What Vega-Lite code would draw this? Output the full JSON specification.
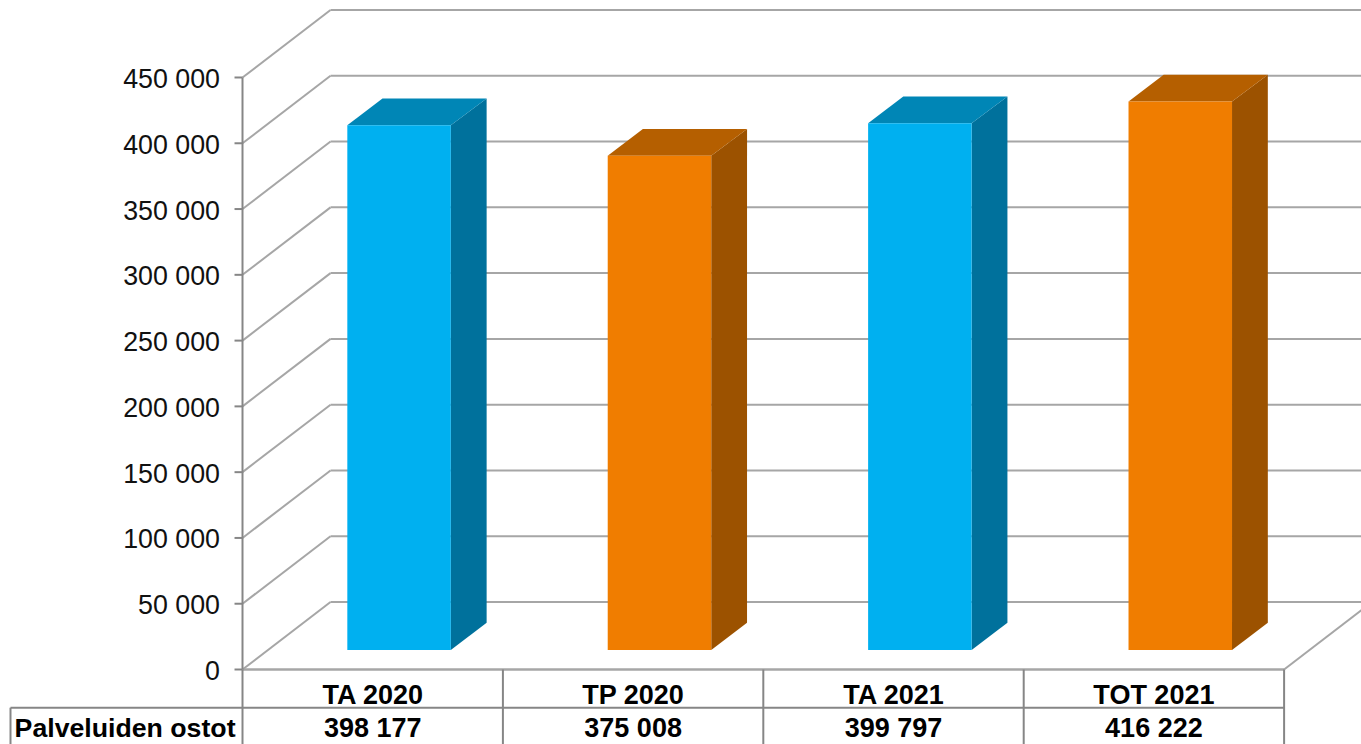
{
"$schema":"https://vega.github.io/schema/vega-lite/v6.json",
"width":1361,"height":744,"padding":0,"autosize":{"type":"none"},"background":"white",
"config":{"view":{"stroke":null},"text":{"font":"Liberation Sans"}},
"datasets":{
 "bars":[
  {"category":"TA 2020","position":0,"value":398177,"label":"398 177"},
  {"category":"TP 2020","position":1,"value":375008,"label":"375 008"},
  {"category":"TA 2021","position":2,"value":399797,"label":"399 797"},
  {"category":"TOT 2021","position":3,"value":416222,"label":"416 222"}],
 "ticks":[{"v":0},{"v":50000},{"v":100000},{"v":150000},{"v":200000},{"v":250000},{"v":300000},{"v":350000},{"v":400000},{"v":450000}],
 "columns":[{"col":0},{"col":1},{"col":2},{"col":3},{"col":4}]
},
"layer":[
 {"data":{"name":"ticks"},
  "transform":[{"calculate":"datum.v+51300","as":"vb"},{"calculate":"0","as":"x0"},{"calculate":"0.338","as":"x1"}],
  "mark":{"type":"rule","color":"#A6A6A6","strokeWidth":2},
  "encoding":{
   "x":{"field":"x0","type":"quantitative","scale":{"domain":[-0.9313,4.2953],"nice":false,"zero":false},"axis":null},
   "x2":{"field":"x1"},
   "y":{"field":"v","type":"quantitative","scale":{"domain":[-56628,508900],"nice":false,"zero":false},
    "axis":{"title":null,"orient":"left","offset":-242.5,"values":[0,50000,100000,150000,200000,250000,300000,350000,400000,450000],
     "labelExpr":"replace(format(datum.value,','),',',' ')","labelFont":"Liberation Sans","labelFontSize":26.8,"labelColor":"#111111","labelPadding":23,"labelOffset":2,
     "labelOverlap":false,"labelBound":false,"labelFlush":false,"domain":false,"grid":false,"ticks":false}},
   "y2":{"field":"vb"}}},
 {"data":{"name":"ticks"},
  "transform":[{"calculate":"-0.0307","as":"x0"},{"calculate":"0","as":"x1"}],
  "mark":{"type":"rule","color":"#868686","strokeWidth":2},
  "encoding":{"x":{"field":"x0","type":"quantitative","axis":null},"x2":{"field":"x1"},"y":{"field":"v","type":"quantitative","title":null}}},
 {"data":{"name":"ticks"},
  "transform":[{"calculate":"datum.v+51300","as":"vb"},{"calculate":"0.338","as":"x1"},{"calculate":"4.338","as":"x2"}],
  "mark":{"type":"rule","color":"#A6A6A6","strokeWidth":2,"clip":true},
  "encoding":{"x":{"field":"x1","type":"quantitative","axis":null},"x2":{"field":"x2"},"y":{"field":"vb","type":"quantitative","title":null}}},
 {"data":{"values":[{"k":"floor side"}]},
  "mark":{"type":"rule","color":"#A6A6A6","strokeWidth":2,"clip":true},
  "encoding":{"x":{"datum":4,"type":"quantitative","axis":null},"x2":{"datum":4.338},"y":{"datum":0,"type":"quantitative","title":null},"y2":{"datum":51300}}},
 {"data":{"values":[{"k":"floor front"}]},
  "mark":{"type":"rule","color":"#A6A6A6","strokeWidth":2.5},
  "encoding":{"x":{"datum":0,"type":"quantitative","axis":null},"x2":{"datum":4},"y":{"datum":0,"type":"quantitative","title":null}}},
 {"data":{"values":[{"k":"axis line"}]},
  "mark":{"type":"rule","color":"#868686","strokeWidth":2},
  "encoding":{"x":{"datum":0,"type":"quantitative","axis":null},"y":{"datum":0,"type":"quantitative","title":null},"y2":{"datum":450000}}},
 {"data":{"name":"columns"},
  "mark":{"type":"rule","color":"#868686","strokeWidth":2},
  "encoding":{"x":{"field":"col","type":"quantitative","axis":null},"y":{"datum":-56628,"type":"quantitative","title":null},"y2":{"datum":0}}},
 {"data":{"values":[{"k":"row line"}]},
  "mark":{"type":"rule","color":"#868686","strokeWidth":2},
  "encoding":{"x":{"datum":-0.891,"type":"quantitative","axis":null},"x2":{"datum":4},"y":{"datum":-29036,"type":"quantitative","title":null}}},
 {"data":{"values":[{"k":"row head edge"}]},
  "mark":{"type":"rule","color":"#868686","strokeWidth":2},
  "encoding":{"x":{"datum":-0.891,"type":"quantitative","axis":null},"y":{"datum":-56628,"type":"quantitative","title":null},"y2":{"datum":-29036}}},
 {"data":{"name":"bars"},
  "transform":[
   {"calculate":"datum.value+15500","as":"vf"},
   {"calculate":"datum.position+0.8","as":"xr"},
   {"calculate":"[datum.xr,datum.xr+0.1375]","as":"sx"},
   {"calculate":"[datum.vf,datum.vf+20300]","as":"st"},
   {"calculate":"[14800,35600]","as":"sb"},
   {"flatten":["sx","st","sb"]}],
  "mark":{"type":"area","orient":"vertical"},
  "encoding":{
   "x":{"field":"sx","type":"quantitative","axis":null},
   "y":{"field":"st","type":"quantitative","title":null},
   "y2":{"field":"sb"},
   "color":{"field":"category","type":"nominal","legend":null,"scale":{"domain":["TA 2020","TP 2020","TA 2021","TOT 2021"],"range":["#00719C","#9C5200","#00719C","#9C5200"]}}}},
 {"data":{"name":"bars"},
  "transform":[
   {"calculate":"datum.value+15500","as":"vf"},
   {"calculate":"datum.value+35800","as":"vb"},
   {"calculate":"datum.position+0.4025","as":"xl"},
   {"calculate":"datum.position+0.8","as":"xr"},
   {"calculate":"[datum.xl,datum.xl+0.135,datum.xr,datum.xr+0.1375]","as":"tx"},
   {"calculate":"[datum.vf,datum.vb,datum.vb,datum.vb]","as":"ty"},
   {"calculate":"[datum.vf,datum.vf,datum.vf,datum.vb]","as":"tb"},
   {"flatten":["tx","ty","tb"]}],
  "mark":{"type":"area","orient":"vertical"},
  "encoding":{
   "x":{"field":"tx","type":"quantitative","axis":null},
   "y":{"field":"ty","type":"quantitative","title":null},
   "y2":{"field":"tb"},
   "color":{"field":"category","type":"nominal","legend":null,"scale":{"domain":["TA 2020","TP 2020","TA 2021","TOT 2021"],"range":["#0086B6","#B55F00","#0086B6","#B55F00"]}}}},
 {"data":{"name":"bars"},
  "transform":[
   {"calculate":"datum.value+15500","as":"vf"},
   {"calculate":"14800","as":"v0"},
   {"calculate":"datum.position+0.4025","as":"xl"},
   {"calculate":"datum.position+0.8","as":"xr"}],
  "mark":{"type":"rect"},
  "encoding":{
   "x":{"field":"xl","type":"quantitative","axis":null},"x2":{"field":"xr"},
   "y":{"field":"vf","type":"quantitative","title":null},"y2":{"field":"v0"},
   "color":{"field":"category","type":"nominal","legend":null,"scale":{"domain":["TA 2020","TP 2020","TA 2021","TOT 2021"],"range":["#00B0F0","#F07D00","#00B0F0","#F07D00"]}}}},
 {"data":{"name":"bars"},
  "transform":[{"calculate":"datum.position+0.5","as":"xc"}],
  "mark":{"type":"text","fontWeight":"bold","fontSize":27,"color":"#000000","baseline":"middle","align":"center"},
  "encoding":{"x":{"field":"xc","type":"quantitative","axis":null},"y":{"datum":-20300,"type":"quantitative","title":null},"text":{"field":"category"}}},
 {"data":{"name":"bars"},
  "transform":[{"calculate":"datum.position+0.5","as":"xc"}],
  "mark":{"type":"text","fontWeight":"bold","fontSize":27,"color":"#000000","baseline":"middle","align":"center"},
  "encoding":{"x":{"field":"xc","type":"quantitative","axis":null},"y":{"datum":-45100,"type":"quantitative","title":null},"text":{"field":"label"}}},
 {"data":{"values":[{"label":"Palveluiden ostot"}]},
  "mark":{"type":"text","fontWeight":"bold","fontSize":26.7,"color":"#000000","baseline":"middle","align":"center"},
  "encoding":{"x":{"datum":-0.451,"type":"quantitative","axis":null},"y":{"datum":-45100,"type":"quantitative","title":null},"text":{"field":"label"}}}
],
"resolve":{"scale":{"color":"independent"}}
}
